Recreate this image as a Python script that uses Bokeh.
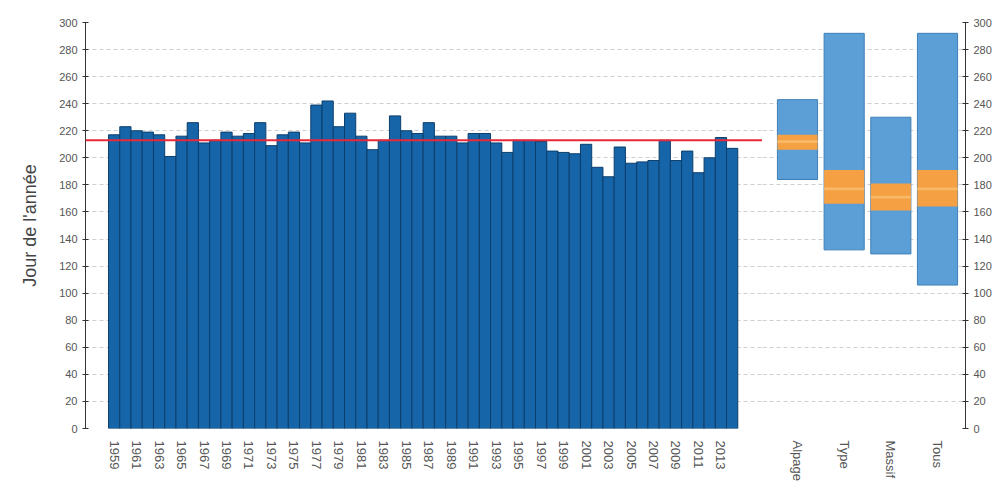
from bokeh.plotting import figure
from bokeh.layouts import row
from bokeh.models import Range1d, FixedTicker, Span
from bokeh.embed import file_html
from bokeh.resources import INLINE

# ---- data ----
years = list(range(1959, 2015))
values = [217, 223, 220, 219, 217, 201, 216, 226, 211, 213,
          219, 216, 218, 226, 209, 217, 219, 211, 239, 242,
          223, 233, 216, 206, 213, 231, 220, 218, 226, 216,
          216, 211, 218, 218, 211, 204, 213, 213, 212, 205,
          204, 203, 210, 193, 186, 208, 196, 197, 198, 213,
          198, 205, 189, 200, 215, 207]
year_ticks = years[::2]

groups = ["Alpage", "Type", "Massif", "Tous"]
g_min = [184, 132, 129, 106]
g_max = [243, 292, 230, 292]
g_q1 = [206, 166, 161, 164]
g_q3 = [217, 191, 181, 191]
g_med = [212, 177, 171, 177]

y_ticks = list(range(0, 301, 20))
mean_value = sum(values) / len(values)

FONT = "Liberation Sans"
AXIS_COL = "#333333"
LBL_COL = "#555555"


def style_y(ax):
    ax.ticker = FixedTicker(ticks=y_ticks)
    ax.axis_line_color = AXIS_COL
    ax.major_tick_line_color = AXIS_COL
    ax.major_tick_in = 3
    ax.major_tick_out = 3
    ax.minor_tick_line_color = None
    ax.major_label_text_font = FONT
    ax.major_label_text_font_size = "11px"
    ax.major_label_text_color = LBL_COL


def style_x(ax):
    ax.axis_line_color = None
    ax.major_tick_line_color = None
    ax.minor_tick_line_color = None
    ax.major_label_orientation = "vertical"
    ax.major_label_text_font = FONT
    ax.major_label_text_font_size = "13px"
    ax.major_label_text_color = LBL_COL
    ax.major_label_standoff = 6


# ---- left: yearly bars ----
p1 = figure(width=762, height=486, output_backend="svg", toolbar_location=None,
            x_range=Range1d(1956.45, 2016.7), y_range=Range1d(0, 300),
            min_border_left=85, min_border_right=0, min_border_top=22,
            min_border_bottom=58)
p1.outline_line_color = None
p1.xgrid.grid_line_color = None
p1.ygrid.ticker = FixedTicker(ticks=y_ticks)
p1.ygrid.grid_line_color = "#cfcfcf"
p1.ygrid.grid_line_dash = "4 3"

p1.vbar(x=years, top=values, bottom=0, width=1.0,
        fill_color="#1765a9", line_color="#0c3e6b", line_width=1)
p1.add_layout(Span(location=mean_value, dimension="width",
                   line_color="#e8293a", line_width=2))

style_y(p1.yaxis[0])
p1.yaxis.axis_label = "Jour de l'année"
p1.yaxis.axis_label_text_font = FONT
p1.yaxis.axis_label_text_font_size = "18px"
p1.yaxis.axis_label_text_font_style = "normal"
p1.yaxis.axis_label_text_color = "#444444"
p1.yaxis.axis_label_standoff = 16
p1.xaxis.ticker = FixedTicker(ticks=year_ticks)
style_x(p1.xaxis[0])

# ---- right: group ranges ----
gx = list(range(len(groups)))
p2 = figure(width=236, height=486, output_backend="svg", toolbar_location=None,
            x_range=Range1d(-0.75, 3.6), y_range=p1.y_range,
            y_axis_location="right",
            min_border_left=0, min_border_right=33, min_border_top=22,
            min_border_bottom=58)
p2.outline_line_color = None
p2.xgrid.grid_line_color = None
p2.ygrid.ticker = FixedTicker(ticks=y_ticks)
p2.ygrid.grid_line_color = "#cfcfcf"
p2.ygrid.grid_line_dash = "4 3"

p2.vbar(x=gx, bottom=g_min, top=g_max, width=0.86,
        fill_color="#5b9fd6", line_color="#3f7fb8", line_width=1)
p2.vbar(x=gx, bottom=g_q1, top=g_q3, width=0.86,
        fill_color="#f5a043", line_color=None)
p2.rect(x=gx, y=g_med, width=0.86, height=2.0,
        fill_color="#f8b866", line_color=None)

style_y(p2.yaxis[0])
p2.xaxis.ticker = FixedTicker(ticks=gx)
p2.xaxis.major_label_overrides = {i: g for i, g in enumerate(groups)}
style_x(p2.xaxis[0])

layout = row(p1, p2)
open("out.html", "w").write(file_html(layout, INLINE))
